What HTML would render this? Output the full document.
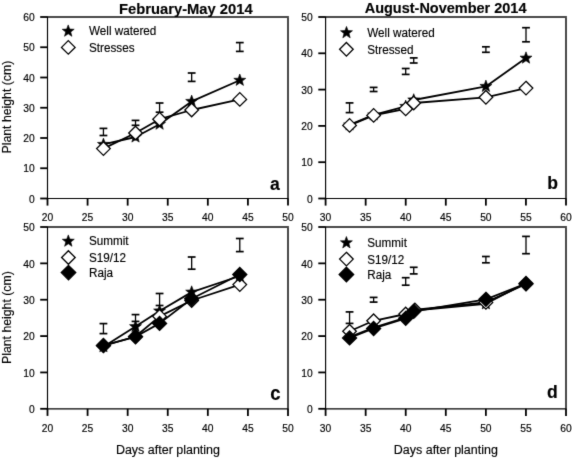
<!DOCTYPE html><html><head><meta charset="utf-8"><style>html,body{margin:0;padding:0;background:#fff;overflow:hidden;width:572px;height:458px;}svg{display:block;} text{font-family:"Liberation Sans", sans-serif;fill:#000;stroke:#000;stroke-width:0.15px;}</style></head><body>
<svg width="572" height="458" viewBox="0 0 572 458">
<defs><filter id="soft" filterUnits="userSpaceOnUse" x="0" y="0" width="572" height="458" color-interpolation-filters="sRGB"><feConvolveMatrix order="3" kernelMatrix="0.0100 0.0800 0.0100 0.0800 0.6400 0.0800 0.0100 0.0800 0.0100" edgeMode="duplicate" preserveAlpha="true"/></filter></defs>
<g filter="url(#soft)">
<rect width="572" height="458" fill="#fff"/>
<line x1="47.50" y1="17.00" x2="288.90" y2="17.00" stroke="#4a4a4a" stroke-width="2"/>
<line x1="288.00" y1="17.90" x2="288.00" y2="198.50" stroke="#4a4a4a" stroke-width="2"/>
<line x1="47.50" y1="16.40" x2="47.50" y2="199.10" stroke="#000" stroke-width="1.15"/>
<line x1="46.90" y1="198.50" x2="288.60" y2="198.50" stroke="#000" stroke-width="1.15"/>
<line x1="40.20" y1="198.50" x2="47.50" y2="198.50" stroke="#000" stroke-width="1.8"/>
<text x="34.70" y="202.70" font-size="10.3" text-anchor="end" font-weight="normal" transform="translate(34.70 202.70) scale(1 1.07) translate(-34.70 -202.70)" >0</text>
<line x1="40.20" y1="168.25" x2="47.50" y2="168.25" stroke="#000" stroke-width="1.8"/>
<text x="34.70" y="172.45" font-size="10.3" text-anchor="end" font-weight="normal" transform="translate(34.70 172.45) scale(1 1.07) translate(-34.70 -172.45)" >10</text>
<line x1="40.20" y1="138.00" x2="47.50" y2="138.00" stroke="#000" stroke-width="1.8"/>
<text x="34.70" y="142.20" font-size="10.3" text-anchor="end" font-weight="normal" transform="translate(34.70 142.20) scale(1 1.07) translate(-34.70 -142.20)" >20</text>
<line x1="40.20" y1="107.75" x2="47.50" y2="107.75" stroke="#000" stroke-width="1.8"/>
<text x="34.70" y="111.95" font-size="10.3" text-anchor="end" font-weight="normal" transform="translate(34.70 111.95) scale(1 1.07) translate(-34.70 -111.95)" >30</text>
<line x1="40.20" y1="77.50" x2="47.50" y2="77.50" stroke="#000" stroke-width="1.8"/>
<text x="34.70" y="81.70" font-size="10.3" text-anchor="end" font-weight="normal" transform="translate(34.70 81.70) scale(1 1.07) translate(-34.70 -81.70)" >40</text>
<line x1="40.20" y1="47.25" x2="47.50" y2="47.25" stroke="#000" stroke-width="1.8"/>
<text x="34.70" y="51.45" font-size="10.3" text-anchor="end" font-weight="normal" transform="translate(34.70 51.45) scale(1 1.07) translate(-34.70 -51.45)" >50</text>
<line x1="40.20" y1="17.00" x2="47.50" y2="17.00" stroke="#000" stroke-width="1.8"/>
<text x="34.70" y="21.20" font-size="10.3" text-anchor="end" font-weight="normal" transform="translate(34.70 21.20) scale(1 1.07) translate(-34.70 -21.20)" >60</text>
<line x1="47.50" y1="198.50" x2="47.50" y2="205.60" stroke="#000" stroke-width="1.8"/>
<text x="47.50" y="221.30" font-size="10.3" text-anchor="middle" font-weight="normal" transform="translate(47.50 221.30) scale(1 1.07) translate(-47.50 -221.30)" >20</text>
<line x1="87.58" y1="198.50" x2="87.58" y2="205.60" stroke="#000" stroke-width="1.8"/>
<text x="87.58" y="221.30" font-size="10.3" text-anchor="middle" font-weight="normal" transform="translate(87.58 221.30) scale(1 1.07) translate(-87.58 -221.30)" >25</text>
<line x1="127.67" y1="198.50" x2="127.67" y2="205.60" stroke="#000" stroke-width="1.8"/>
<text x="127.67" y="221.30" font-size="10.3" text-anchor="middle" font-weight="normal" transform="translate(127.67 221.30) scale(1 1.07) translate(-127.67 -221.30)" >30</text>
<line x1="167.75" y1="198.50" x2="167.75" y2="205.60" stroke="#000" stroke-width="1.8"/>
<text x="167.75" y="221.30" font-size="10.3" text-anchor="middle" font-weight="normal" transform="translate(167.75 221.30) scale(1 1.07) translate(-167.75 -221.30)" >35</text>
<line x1="207.83" y1="198.50" x2="207.83" y2="205.60" stroke="#000" stroke-width="1.8"/>
<text x="207.83" y="221.30" font-size="10.3" text-anchor="middle" font-weight="normal" transform="translate(207.83 221.30) scale(1 1.07) translate(-207.83 -221.30)" >40</text>
<line x1="247.92" y1="198.50" x2="247.92" y2="205.60" stroke="#000" stroke-width="1.8"/>
<text x="247.92" y="221.30" font-size="10.3" text-anchor="middle" font-weight="normal" transform="translate(247.92 221.30) scale(1 1.07) translate(-247.92 -221.30)" >45</text>
<line x1="288.00" y1="198.50" x2="288.00" y2="205.60" stroke="#000" stroke-width="1.8"/>
<text x="288.00" y="221.30" font-size="10.3" text-anchor="middle" font-weight="normal" transform="translate(288.00 221.30) scale(1 1.07) translate(-288.00 -221.30)" >50</text>
<line x1="325.60" y1="17.00" x2="566.90" y2="17.00" stroke="#4a4a4a" stroke-width="2"/>
<line x1="566.00" y1="17.90" x2="566.00" y2="198.50" stroke="#4a4a4a" stroke-width="2"/>
<line x1="325.60" y1="16.40" x2="325.60" y2="199.10" stroke="#000" stroke-width="1.15"/>
<line x1="325.00" y1="198.50" x2="566.60" y2="198.50" stroke="#000" stroke-width="1.15"/>
<line x1="318.30" y1="198.50" x2="325.60" y2="198.50" stroke="#000" stroke-width="1.8"/>
<text x="312.80" y="202.70" font-size="10.3" text-anchor="end" font-weight="normal" transform="translate(312.80 202.70) scale(1 1.07) translate(-312.80 -202.70)" >0</text>
<line x1="318.30" y1="162.20" x2="325.60" y2="162.20" stroke="#000" stroke-width="1.8"/>
<text x="312.80" y="166.40" font-size="10.3" text-anchor="end" font-weight="normal" transform="translate(312.80 166.40) scale(1 1.07) translate(-312.80 -166.40)" >10</text>
<line x1="318.30" y1="125.90" x2="325.60" y2="125.90" stroke="#000" stroke-width="1.8"/>
<text x="312.80" y="130.10" font-size="10.3" text-anchor="end" font-weight="normal" transform="translate(312.80 130.10) scale(1 1.07) translate(-312.80 -130.10)" >20</text>
<line x1="318.30" y1="89.60" x2="325.60" y2="89.60" stroke="#000" stroke-width="1.8"/>
<text x="312.80" y="93.80" font-size="10.3" text-anchor="end" font-weight="normal" transform="translate(312.80 93.80) scale(1 1.07) translate(-312.80 -93.80)" >30</text>
<line x1="318.30" y1="53.30" x2="325.60" y2="53.30" stroke="#000" stroke-width="1.8"/>
<text x="312.80" y="57.50" font-size="10.3" text-anchor="end" font-weight="normal" transform="translate(312.80 57.50) scale(1 1.07) translate(-312.80 -57.50)" >40</text>
<line x1="318.30" y1="17.00" x2="325.60" y2="17.00" stroke="#000" stroke-width="1.8"/>
<text x="312.80" y="21.20" font-size="10.3" text-anchor="end" font-weight="normal" transform="translate(312.80 21.20) scale(1 1.07) translate(-312.80 -21.20)" >50</text>
<line x1="325.60" y1="198.50" x2="325.60" y2="205.60" stroke="#000" stroke-width="1.8"/>
<text x="325.60" y="221.30" font-size="10.3" text-anchor="middle" font-weight="normal" transform="translate(325.60 221.30) scale(1 1.07) translate(-325.60 -221.30)" >30</text>
<line x1="365.67" y1="198.50" x2="365.67" y2="205.60" stroke="#000" stroke-width="1.8"/>
<text x="365.67" y="221.30" font-size="10.3" text-anchor="middle" font-weight="normal" transform="translate(365.67 221.30) scale(1 1.07) translate(-365.67 -221.30)" >35</text>
<line x1="405.73" y1="198.50" x2="405.73" y2="205.60" stroke="#000" stroke-width="1.8"/>
<text x="405.73" y="221.30" font-size="10.3" text-anchor="middle" font-weight="normal" transform="translate(405.73 221.30) scale(1 1.07) translate(-405.73 -221.30)" >40</text>
<line x1="445.80" y1="198.50" x2="445.80" y2="205.60" stroke="#000" stroke-width="1.8"/>
<text x="445.80" y="221.30" font-size="10.3" text-anchor="middle" font-weight="normal" transform="translate(445.80 221.30) scale(1 1.07) translate(-445.80 -221.30)" >45</text>
<line x1="485.87" y1="198.50" x2="485.87" y2="205.60" stroke="#000" stroke-width="1.8"/>
<text x="485.87" y="221.30" font-size="10.3" text-anchor="middle" font-weight="normal" transform="translate(485.87 221.30) scale(1 1.07) translate(-485.87 -221.30)" >50</text>
<line x1="525.93" y1="198.50" x2="525.93" y2="205.60" stroke="#000" stroke-width="1.8"/>
<text x="525.93" y="221.30" font-size="10.3" text-anchor="middle" font-weight="normal" transform="translate(525.93 221.30) scale(1 1.07) translate(-525.93 -221.30)" >55</text>
<line x1="566.00" y1="198.50" x2="566.00" y2="205.60" stroke="#000" stroke-width="1.8"/>
<text x="566.00" y="221.30" font-size="10.3" text-anchor="middle" font-weight="normal" transform="translate(566.00 221.30) scale(1 1.07) translate(-566.00 -221.30)" >60</text>
<line x1="47.50" y1="227.00" x2="288.90" y2="227.00" stroke="#4a4a4a" stroke-width="2"/>
<line x1="288.00" y1="227.90" x2="288.00" y2="408.80" stroke="#4a4a4a" stroke-width="2"/>
<line x1="47.50" y1="226.40" x2="47.50" y2="409.40" stroke="#000" stroke-width="1.15"/>
<line x1="46.90" y1="408.80" x2="288.60" y2="408.80" stroke="#000" stroke-width="1.15"/>
<line x1="40.20" y1="408.80" x2="47.50" y2="408.80" stroke="#000" stroke-width="1.8"/>
<text x="34.70" y="413.00" font-size="10.3" text-anchor="end" font-weight="normal" transform="translate(34.70 413.00) scale(1 1.07) translate(-34.70 -413.00)" >0</text>
<line x1="40.20" y1="372.44" x2="47.50" y2="372.44" stroke="#000" stroke-width="1.8"/>
<text x="34.70" y="376.64" font-size="10.3" text-anchor="end" font-weight="normal" transform="translate(34.70 376.64) scale(1 1.07) translate(-34.70 -376.64)" >10</text>
<line x1="40.20" y1="336.08" x2="47.50" y2="336.08" stroke="#000" stroke-width="1.8"/>
<text x="34.70" y="340.28" font-size="10.3" text-anchor="end" font-weight="normal" transform="translate(34.70 340.28) scale(1 1.07) translate(-34.70 -340.28)" >20</text>
<line x1="40.20" y1="299.72" x2="47.50" y2="299.72" stroke="#000" stroke-width="1.8"/>
<text x="34.70" y="303.92" font-size="10.3" text-anchor="end" font-weight="normal" transform="translate(34.70 303.92) scale(1 1.07) translate(-34.70 -303.92)" >30</text>
<line x1="40.20" y1="263.36" x2="47.50" y2="263.36" stroke="#000" stroke-width="1.8"/>
<text x="34.70" y="267.56" font-size="10.3" text-anchor="end" font-weight="normal" transform="translate(34.70 267.56) scale(1 1.07) translate(-34.70 -267.56)" >40</text>
<line x1="40.20" y1="227.00" x2="47.50" y2="227.00" stroke="#000" stroke-width="1.8"/>
<text x="34.70" y="231.20" font-size="10.3" text-anchor="end" font-weight="normal" transform="translate(34.70 231.20) scale(1 1.07) translate(-34.70 -231.20)" >50</text>
<line x1="47.50" y1="408.80" x2="47.50" y2="415.90" stroke="#000" stroke-width="1.8"/>
<text x="47.50" y="431.60" font-size="10.3" text-anchor="middle" font-weight="normal" transform="translate(47.50 431.60) scale(1 1.07) translate(-47.50 -431.60)" >20</text>
<line x1="87.58" y1="408.80" x2="87.58" y2="415.90" stroke="#000" stroke-width="1.8"/>
<text x="87.58" y="431.60" font-size="10.3" text-anchor="middle" font-weight="normal" transform="translate(87.58 431.60) scale(1 1.07) translate(-87.58 -431.60)" >25</text>
<line x1="127.67" y1="408.80" x2="127.67" y2="415.90" stroke="#000" stroke-width="1.8"/>
<text x="127.67" y="431.60" font-size="10.3" text-anchor="middle" font-weight="normal" transform="translate(127.67 431.60) scale(1 1.07) translate(-127.67 -431.60)" >30</text>
<line x1="167.75" y1="408.80" x2="167.75" y2="415.90" stroke="#000" stroke-width="1.8"/>
<text x="167.75" y="431.60" font-size="10.3" text-anchor="middle" font-weight="normal" transform="translate(167.75 431.60) scale(1 1.07) translate(-167.75 -431.60)" >35</text>
<line x1="207.83" y1="408.80" x2="207.83" y2="415.90" stroke="#000" stroke-width="1.8"/>
<text x="207.83" y="431.60" font-size="10.3" text-anchor="middle" font-weight="normal" transform="translate(207.83 431.60) scale(1 1.07) translate(-207.83 -431.60)" >40</text>
<line x1="247.92" y1="408.80" x2="247.92" y2="415.90" stroke="#000" stroke-width="1.8"/>
<text x="247.92" y="431.60" font-size="10.3" text-anchor="middle" font-weight="normal" transform="translate(247.92 431.60) scale(1 1.07) translate(-247.92 -431.60)" >45</text>
<line x1="288.00" y1="408.80" x2="288.00" y2="415.90" stroke="#000" stroke-width="1.8"/>
<text x="288.00" y="431.60" font-size="10.3" text-anchor="middle" font-weight="normal" transform="translate(288.00 431.60) scale(1 1.07) translate(-288.00 -431.60)" >50</text>
<line x1="325.60" y1="227.00" x2="566.90" y2="227.00" stroke="#4a4a4a" stroke-width="2"/>
<line x1="566.00" y1="227.90" x2="566.00" y2="408.80" stroke="#4a4a4a" stroke-width="2"/>
<line x1="325.60" y1="226.40" x2="325.60" y2="409.40" stroke="#000" stroke-width="1.15"/>
<line x1="325.00" y1="408.80" x2="566.60" y2="408.80" stroke="#000" stroke-width="1.15"/>
<line x1="318.30" y1="408.80" x2="325.60" y2="408.80" stroke="#000" stroke-width="1.8"/>
<text x="312.80" y="413.00" font-size="10.3" text-anchor="end" font-weight="normal" transform="translate(312.80 413.00) scale(1 1.07) translate(-312.80 -413.00)" >0</text>
<line x1="318.30" y1="372.44" x2="325.60" y2="372.44" stroke="#000" stroke-width="1.8"/>
<text x="312.80" y="376.64" font-size="10.3" text-anchor="end" font-weight="normal" transform="translate(312.80 376.64) scale(1 1.07) translate(-312.80 -376.64)" >10</text>
<line x1="318.30" y1="336.08" x2="325.60" y2="336.08" stroke="#000" stroke-width="1.8"/>
<text x="312.80" y="340.28" font-size="10.3" text-anchor="end" font-weight="normal" transform="translate(312.80 340.28) scale(1 1.07) translate(-312.80 -340.28)" >20</text>
<line x1="318.30" y1="299.72" x2="325.60" y2="299.72" stroke="#000" stroke-width="1.8"/>
<text x="312.80" y="303.92" font-size="10.3" text-anchor="end" font-weight="normal" transform="translate(312.80 303.92) scale(1 1.07) translate(-312.80 -303.92)" >30</text>
<line x1="318.30" y1="263.36" x2="325.60" y2="263.36" stroke="#000" stroke-width="1.8"/>
<text x="312.80" y="267.56" font-size="10.3" text-anchor="end" font-weight="normal" transform="translate(312.80 267.56) scale(1 1.07) translate(-312.80 -267.56)" >40</text>
<line x1="318.30" y1="227.00" x2="325.60" y2="227.00" stroke="#000" stroke-width="1.8"/>
<text x="312.80" y="231.20" font-size="10.3" text-anchor="end" font-weight="normal" transform="translate(312.80 231.20) scale(1 1.07) translate(-312.80 -231.20)" >50</text>
<line x1="325.60" y1="408.80" x2="325.60" y2="415.90" stroke="#000" stroke-width="1.8"/>
<text x="325.60" y="431.60" font-size="10.3" text-anchor="middle" font-weight="normal" transform="translate(325.60 431.60) scale(1 1.07) translate(-325.60 -431.60)" >30</text>
<line x1="365.67" y1="408.80" x2="365.67" y2="415.90" stroke="#000" stroke-width="1.8"/>
<text x="365.67" y="431.60" font-size="10.3" text-anchor="middle" font-weight="normal" transform="translate(365.67 431.60) scale(1 1.07) translate(-365.67 -431.60)" >35</text>
<line x1="405.73" y1="408.80" x2="405.73" y2="415.90" stroke="#000" stroke-width="1.8"/>
<text x="405.73" y="431.60" font-size="10.3" text-anchor="middle" font-weight="normal" transform="translate(405.73 431.60) scale(1 1.07) translate(-405.73 -431.60)" >40</text>
<line x1="445.80" y1="408.80" x2="445.80" y2="415.90" stroke="#000" stroke-width="1.8"/>
<text x="445.80" y="431.60" font-size="10.3" text-anchor="middle" font-weight="normal" transform="translate(445.80 431.60) scale(1 1.07) translate(-445.80 -431.60)" >45</text>
<line x1="485.87" y1="408.80" x2="485.87" y2="415.90" stroke="#000" stroke-width="1.8"/>
<text x="485.87" y="431.60" font-size="10.3" text-anchor="middle" font-weight="normal" transform="translate(485.87 431.60) scale(1 1.07) translate(-485.87 -431.60)" >50</text>
<line x1="525.93" y1="408.80" x2="525.93" y2="415.90" stroke="#000" stroke-width="1.8"/>
<text x="525.93" y="431.60" font-size="10.3" text-anchor="middle" font-weight="normal" transform="translate(525.93 431.60) scale(1 1.07) translate(-525.93 -431.60)" >55</text>
<line x1="566.00" y1="408.80" x2="566.00" y2="415.90" stroke="#000" stroke-width="1.8"/>
<text x="566.00" y="431.60" font-size="10.3" text-anchor="middle" font-weight="normal" transform="translate(566.00 431.60) scale(1 1.07) translate(-566.00 -431.60)" >60</text>
<text x="185.85" y="13.50" font-size="14.75" text-anchor="middle" font-weight="bold" transform="translate(185.85 13.50) scale(1 1.03) translate(-185.85 -13.50)" >February-May 2014</text>
<text x="445.60" y="13.50" font-size="14.5" text-anchor="middle" font-weight="bold" transform="translate(445.60 13.50) scale(1 1.03) translate(-445.60 -13.50)" >August-November 2014</text>
<text x="10.90" y="107.10" font-size="12.3" text-anchor="middle" font-weight="normal" transform="rotate(-90 10.90 107.10) translate(10.90 107.10) scale(1 1.07) translate(-10.90 -107.10)" >Plant height (cm)</text>
<text x="10.90" y="317.60" font-size="12.3" text-anchor="middle" font-weight="normal" transform="rotate(-90 10.90 317.60) translate(10.90 317.60) scale(1 1.07) translate(-10.90 -317.60)" >Plant height (cm)</text>
<text x="167.95" y="453.60" font-size="12.5" text-anchor="middle" font-weight="normal" transform="translate(167.95 453.60) scale(1 1.05) translate(-167.95 -453.60)" >Days after planting</text>
<text x="445.85" y="453.60" font-size="12.5" text-anchor="middle" font-weight="normal" transform="translate(445.85 453.60) scale(1 1.05) translate(-445.85 -453.60)" >Days after planting</text>
<text x="274.90" y="190.40" font-size="17.6" text-anchor="middle" font-weight="bold" transform="translate(274.90 190.40) scale(1 1.07) translate(-274.90 -190.40)" >a</text>
<text x="552.70" y="189.50" font-size="17.6" text-anchor="middle" font-weight="bold" transform="translate(552.70 189.50) scale(1 1.07) translate(-552.70 -189.50)" >b</text>
<text x="275.35" y="399.60" font-size="18.5" text-anchor="middle" font-weight="bold" transform="translate(275.35 399.60) scale(1 1.07) translate(-275.35 -399.60)" >c</text>
<text x="552.40" y="398.50" font-size="17.6" text-anchor="middle" font-weight="bold" transform="translate(552.40 398.50) scale(1 1.07) translate(-552.40 -398.50)" >d</text>
<line x1="103.44" y1="128.40" x2="103.44" y2="135.50" stroke="#000" stroke-width="1.3"/><line x1="99.54" y1="128.40" x2="107.34" y2="128.40" stroke="#000" stroke-width="1.7"/><line x1="99.54" y1="135.50" x2="107.34" y2="135.50" stroke="#000" stroke-width="1.7"/>
<line x1="135.52" y1="120.40" x2="135.52" y2="125.30" stroke="#000" stroke-width="1.3"/><line x1="131.62" y1="120.40" x2="139.42" y2="120.40" stroke="#000" stroke-width="1.7"/><line x1="131.62" y1="125.30" x2="139.42" y2="125.30" stroke="#000" stroke-width="1.7"/>
<line x1="159.58" y1="103.00" x2="159.58" y2="112.20" stroke="#000" stroke-width="1.3"/><line x1="155.68" y1="103.00" x2="163.48" y2="103.00" stroke="#000" stroke-width="1.7"/><line x1="155.68" y1="112.20" x2="163.48" y2="112.20" stroke="#000" stroke-width="1.7"/>
<line x1="191.66" y1="73.00" x2="191.66" y2="81.40" stroke="#000" stroke-width="1.3"/><line x1="187.76" y1="73.00" x2="195.56" y2="73.00" stroke="#000" stroke-width="1.7"/><line x1="187.76" y1="81.40" x2="195.56" y2="81.40" stroke="#000" stroke-width="1.7"/>
<line x1="239.78" y1="42.60" x2="239.78" y2="51.40" stroke="#000" stroke-width="1.3"/><line x1="235.88" y1="42.60" x2="243.68" y2="42.60" stroke="#000" stroke-width="1.7"/><line x1="235.88" y1="51.40" x2="243.68" y2="51.40" stroke="#000" stroke-width="1.7"/>
<polyline points="103.44,144.40 135.52,137.00 159.58,124.20 191.66,101.40 239.78,80.30" fill="none" stroke="#000" stroke-width="1.8" stroke-linejoin="round"/>
<path d="M103.44,138.10 L105.00,142.26 L109.43,142.45 L105.96,145.22 L107.14,149.50 L103.44,147.05 L99.74,149.50 L100.92,145.22 L97.45,142.45 L101.88,142.26 Z" fill="#000" stroke="#000" stroke-width="0.6" stroke-linejoin="miter"/>
<path d="M135.52,130.70 L137.08,134.86 L141.51,135.05 L138.04,137.82 L139.22,142.10 L135.52,139.65 L131.82,142.10 L133.00,137.82 L129.53,135.05 L133.96,134.86 Z" fill="#000" stroke="#000" stroke-width="0.6" stroke-linejoin="miter"/>
<path d="M159.58,117.90 L161.14,122.06 L165.57,122.25 L162.10,125.02 L163.28,129.30 L159.58,126.85 L155.88,129.30 L157.06,125.02 L153.59,122.25 L158.02,122.06 Z" fill="#000" stroke="#000" stroke-width="0.6" stroke-linejoin="miter"/>
<path d="M191.66,95.10 L193.22,99.26 L197.65,99.45 L194.18,102.22 L195.36,106.50 L191.66,104.05 L187.96,106.50 L189.14,102.22 L185.67,99.45 L190.10,99.26 Z" fill="#000" stroke="#000" stroke-width="0.6" stroke-linejoin="miter"/>
<path d="M239.78,74.00 L241.34,78.16 L245.77,78.35 L242.30,81.12 L243.48,85.40 L239.78,82.95 L236.08,85.40 L237.26,81.12 L233.79,78.35 L238.22,78.16 Z" fill="#000" stroke="#000" stroke-width="0.6" stroke-linejoin="miter"/>
<polyline points="103.44,148.60 135.52,133.00 159.58,119.20 191.66,110.00 239.78,99.40" fill="none" stroke="#000" stroke-width="1.8" stroke-linejoin="round"/>
<path d="M103.44,141.80 L110.24,148.60 L103.44,155.40 L96.64,148.60 Z" fill="#fff" stroke="#000" stroke-width="1.3" stroke-linejoin="miter"/>
<path d="M135.52,126.20 L142.32,133.00 L135.52,139.80 L128.72,133.00 Z" fill="#fff" stroke="#000" stroke-width="1.3" stroke-linejoin="miter"/>
<path d="M159.58,112.40 L166.38,119.20 L159.58,126.00 L152.78,119.20 Z" fill="#fff" stroke="#000" stroke-width="1.3" stroke-linejoin="miter"/>
<path d="M191.66,103.20 L198.46,110.00 L191.66,116.80 L184.86,110.00 Z" fill="#fff" stroke="#000" stroke-width="1.3" stroke-linejoin="miter"/>
<path d="M239.78,92.60 L246.58,99.40 L239.78,106.20 L232.98,99.40 Z" fill="#fff" stroke="#000" stroke-width="1.3" stroke-linejoin="miter"/>
<path d="M68.20,24.90 L69.76,29.06 L74.19,29.25 L70.72,32.02 L71.90,36.30 L68.20,33.85 L64.50,36.30 L65.68,32.02 L62.21,29.25 L66.64,29.06 Z" fill="#000" stroke="#000" stroke-width="0.6" stroke-linejoin="miter"/>
<path d="M68.30,40.60 L75.10,47.40 L68.30,54.20 L61.50,47.40 Z" fill="#fff" stroke="#000" stroke-width="1.3" stroke-linejoin="miter"/>
<text x="89.00" y="35.20" font-size="11.7" text-anchor="start" font-weight="normal" transform="translate(89.00 35.20) scale(1 1.07) translate(-89.00 -35.20)" >Well watered</text>
<text x="89.00" y="51.90" font-size="11.7" text-anchor="start" font-weight="normal" transform="translate(89.00 51.90) scale(1 1.07) translate(-89.00 -51.90)" >Stresses</text>
<line x1="349.56" y1="102.90" x2="349.56" y2="112.60" stroke="#000" stroke-width="1.3"/><line x1="345.66" y1="102.90" x2="353.46" y2="102.90" stroke="#000" stroke-width="1.7"/><line x1="345.66" y1="112.60" x2="353.46" y2="112.60" stroke="#000" stroke-width="1.7"/>
<line x1="373.62" y1="87.40" x2="373.62" y2="91.50" stroke="#000" stroke-width="1.3"/><line x1="369.72" y1="87.40" x2="377.52" y2="87.40" stroke="#000" stroke-width="1.7"/><line x1="369.72" y1="91.50" x2="377.52" y2="91.50" stroke="#000" stroke-width="1.7"/>
<line x1="405.70" y1="68.50" x2="405.70" y2="74.40" stroke="#000" stroke-width="1.3"/><line x1="401.80" y1="68.50" x2="409.60" y2="68.50" stroke="#000" stroke-width="1.7"/><line x1="401.80" y1="74.40" x2="409.60" y2="74.40" stroke="#000" stroke-width="1.7"/>
<line x1="413.72" y1="57.90" x2="413.72" y2="63.00" stroke="#000" stroke-width="1.3"/><line x1="409.82" y1="57.90" x2="417.62" y2="57.90" stroke="#000" stroke-width="1.7"/><line x1="409.82" y1="63.00" x2="417.62" y2="63.00" stroke="#000" stroke-width="1.7"/>
<line x1="485.90" y1="46.80" x2="485.90" y2="52.30" stroke="#000" stroke-width="1.3"/><line x1="482.00" y1="46.80" x2="489.80" y2="46.80" stroke="#000" stroke-width="1.7"/><line x1="482.00" y1="52.30" x2="489.80" y2="52.30" stroke="#000" stroke-width="1.7"/>
<line x1="526.00" y1="27.70" x2="526.00" y2="41.80" stroke="#000" stroke-width="1.3"/><line x1="522.10" y1="27.70" x2="529.90" y2="27.70" stroke="#000" stroke-width="1.7"/><line x1="522.10" y1="41.80" x2="529.90" y2="41.80" stroke="#000" stroke-width="1.7"/>
<polyline points="349.56,124.95 373.62,114.95 405.70,106.40 413.72,100.00 485.90,86.40 526.00,58.10" fill="none" stroke="#000" stroke-width="1.8" stroke-linejoin="round"/>
<path d="M349.56,118.65 L351.12,122.81 L355.55,123.00 L352.08,125.77 L353.26,130.05 L349.56,127.60 L345.86,130.05 L347.04,125.77 L343.57,123.00 L348.00,122.81 Z" fill="#000" stroke="#000" stroke-width="0.6" stroke-linejoin="miter"/>
<path d="M373.62,108.65 L375.18,112.81 L379.61,113.00 L376.14,115.77 L377.32,120.05 L373.62,117.60 L369.92,120.05 L371.10,115.77 L367.63,113.00 L372.06,112.81 Z" fill="#000" stroke="#000" stroke-width="0.6" stroke-linejoin="miter"/>
<path d="M405.70,100.10 L407.26,104.26 L411.69,104.45 L408.22,107.22 L409.40,111.50 L405.70,109.05 L402.00,111.50 L403.18,107.22 L399.71,104.45 L404.14,104.26 Z" fill="#000" stroke="#000" stroke-width="0.6" stroke-linejoin="miter"/>
<path d="M413.72,93.70 L415.28,97.86 L419.71,98.05 L416.24,100.82 L417.42,105.10 L413.72,102.65 L410.02,105.10 L411.20,100.82 L407.73,98.05 L412.16,97.86 Z" fill="#000" stroke="#000" stroke-width="0.6" stroke-linejoin="miter"/>
<path d="M485.90,80.10 L487.46,84.26 L491.89,84.45 L488.42,87.22 L489.60,91.50 L485.90,89.05 L482.20,91.50 L483.38,87.22 L479.91,84.45 L484.34,84.26 Z" fill="#000" stroke="#000" stroke-width="0.6" stroke-linejoin="miter"/>
<path d="M526.00,51.80 L527.56,55.96 L531.99,56.15 L528.52,58.92 L529.70,63.20 L526.00,60.75 L522.30,63.20 L523.48,58.92 L520.01,56.15 L524.44,55.96 Z" fill="#000" stroke="#000" stroke-width="0.6" stroke-linejoin="miter"/>
<polyline points="349.56,125.40 373.62,115.40 405.70,108.90 413.72,103.00 485.90,97.30 526.00,88.10" fill="none" stroke="#000" stroke-width="1.8" stroke-linejoin="round"/>
<path d="M349.56,118.60 L356.36,125.40 L349.56,132.20 L342.76,125.40 Z" fill="#fff" stroke="#000" stroke-width="1.3" stroke-linejoin="miter"/>
<path d="M373.62,108.60 L380.42,115.40 L373.62,122.20 L366.82,115.40 Z" fill="#fff" stroke="#000" stroke-width="1.3" stroke-linejoin="miter"/>
<path d="M405.70,102.10 L412.50,108.90 L405.70,115.70 L398.90,108.90 Z" fill="#fff" stroke="#000" stroke-width="1.3" stroke-linejoin="miter"/>
<path d="M413.72,96.20 L420.52,103.00 L413.72,109.80 L406.92,103.00 Z" fill="#fff" stroke="#000" stroke-width="1.3" stroke-linejoin="miter"/>
<path d="M485.90,90.50 L492.70,97.30 L485.90,104.10 L479.10,97.30 Z" fill="#fff" stroke="#000" stroke-width="1.3" stroke-linejoin="miter"/>
<path d="M526.00,81.30 L532.80,88.10 L526.00,94.90 L519.20,88.10 Z" fill="#fff" stroke="#000" stroke-width="1.3" stroke-linejoin="miter"/>
<path d="M346.50,26.40 L348.06,30.56 L352.49,30.75 L349.02,33.52 L350.20,37.80 L346.50,35.35 L342.80,37.80 L343.98,33.52 L340.51,30.75 L344.94,30.56 Z" fill="#000" stroke="#000" stroke-width="0.6" stroke-linejoin="miter"/>
<path d="M346.40,42.50 L353.20,49.30 L346.40,56.10 L339.60,49.30 Z" fill="#fff" stroke="#000" stroke-width="1.3" stroke-linejoin="miter"/>
<text x="367.30" y="36.60" font-size="11.7" text-anchor="start" font-weight="normal" transform="translate(367.30 36.60) scale(1 1.07) translate(-367.30 -36.60)" >Well watered</text>
<text x="367.30" y="53.60" font-size="11.7" text-anchor="start" font-weight="normal" transform="translate(367.30 53.60) scale(1 1.07) translate(-367.30 -53.60)" >Stressed</text>
<line x1="103.44" y1="323.60" x2="103.44" y2="333.60" stroke="#000" stroke-width="1.3"/><line x1="99.54" y1="323.60" x2="107.34" y2="323.60" stroke="#000" stroke-width="1.7"/><line x1="99.54" y1="333.60" x2="107.34" y2="333.60" stroke="#000" stroke-width="1.7"/>
<line x1="135.52" y1="314.60" x2="135.52" y2="321.40" stroke="#000" stroke-width="1.3"/><line x1="131.62" y1="314.60" x2="139.42" y2="314.60" stroke="#000" stroke-width="1.7"/><line x1="131.62" y1="321.40" x2="139.42" y2="321.40" stroke="#000" stroke-width="1.7"/>
<line x1="159.58" y1="293.50" x2="159.58" y2="305.50" stroke="#000" stroke-width="1.3"/><line x1="155.68" y1="293.50" x2="163.48" y2="293.50" stroke="#000" stroke-width="1.7"/><line x1="155.68" y1="305.50" x2="163.48" y2="305.50" stroke="#000" stroke-width="1.7"/>
<line x1="191.66" y1="257.00" x2="191.66" y2="269.20" stroke="#000" stroke-width="1.3"/><line x1="187.76" y1="257.00" x2="195.56" y2="257.00" stroke="#000" stroke-width="1.7"/><line x1="187.76" y1="269.20" x2="195.56" y2="269.20" stroke="#000" stroke-width="1.7"/>
<line x1="239.78" y1="238.50" x2="239.78" y2="251.60" stroke="#000" stroke-width="1.3"/><line x1="235.88" y1="238.50" x2="243.68" y2="238.50" stroke="#000" stroke-width="1.7"/><line x1="235.88" y1="251.60" x2="243.68" y2="251.60" stroke="#000" stroke-width="1.7"/>
<polyline points="103.44,346.70 135.52,326.60 159.58,311.00 191.66,292.10 239.78,276.00" fill="none" stroke="#000" stroke-width="1.8" stroke-linejoin="round"/>
<path d="M103.44,340.40 L105.00,344.56 L109.43,344.75 L105.96,347.52 L107.14,351.80 L103.44,349.35 L99.74,351.80 L100.92,347.52 L97.45,344.75 L101.88,344.56 Z" fill="#000" stroke="#000" stroke-width="0.6" stroke-linejoin="miter"/>
<path d="M135.52,320.30 L137.08,324.46 L141.51,324.65 L138.04,327.42 L139.22,331.70 L135.52,329.25 L131.82,331.70 L133.00,327.42 L129.53,324.65 L133.96,324.46 Z" fill="#000" stroke="#000" stroke-width="0.6" stroke-linejoin="miter"/>
<path d="M159.58,304.70 L161.14,308.86 L165.57,309.05 L162.10,311.82 L163.28,316.10 L159.58,313.65 L155.88,316.10 L157.06,311.82 L153.59,309.05 L158.02,308.86 Z" fill="#000" stroke="#000" stroke-width="0.6" stroke-linejoin="miter"/>
<path d="M191.66,285.80 L193.22,289.96 L197.65,290.15 L194.18,292.92 L195.36,297.20 L191.66,294.75 L187.96,297.20 L189.14,292.92 L185.67,290.15 L190.10,289.96 Z" fill="#000" stroke="#000" stroke-width="0.6" stroke-linejoin="miter"/>
<path d="M239.78,269.70 L241.34,273.86 L245.77,274.05 L242.30,276.82 L243.48,281.10 L239.78,278.65 L236.08,281.10 L237.26,276.82 L233.79,274.05 L238.22,273.86 Z" fill="#000" stroke="#000" stroke-width="0.6" stroke-linejoin="miter"/>
<polyline points="103.44,345.80 135.52,336.50 159.58,316.40 191.66,300.50 239.78,284.60" fill="none" stroke="#000" stroke-width="1.8" stroke-linejoin="round"/>
<path d="M103.44,339.00 L110.24,345.80 L103.44,352.60 L96.64,345.80 Z" fill="#fff" stroke="#000" stroke-width="1.3" stroke-linejoin="miter"/>
<path d="M135.52,329.70 L142.32,336.50 L135.52,343.30 L128.72,336.50 Z" fill="#fff" stroke="#000" stroke-width="1.3" stroke-linejoin="miter"/>
<path d="M159.58,309.60 L166.38,316.40 L159.58,323.20 L152.78,316.40 Z" fill="#fff" stroke="#000" stroke-width="1.3" stroke-linejoin="miter"/>
<path d="M191.66,293.70 L198.46,300.50 L191.66,307.30 L184.86,300.50 Z" fill="#fff" stroke="#000" stroke-width="1.3" stroke-linejoin="miter"/>
<path d="M239.78,277.80 L246.58,284.60 L239.78,291.40 L232.98,284.60 Z" fill="#fff" stroke="#000" stroke-width="1.3" stroke-linejoin="miter"/>
<polyline points="103.44,345.40 135.52,336.80 159.58,323.40 191.66,298.80 239.78,274.50" fill="none" stroke="#000" stroke-width="1.8" stroke-linejoin="round"/>
<path d="M103.44,338.40 L110.44,345.40 L103.44,352.40 L96.44,345.40 Z" fill="#000" stroke="#000" stroke-width="1.3" stroke-linejoin="miter"/>
<path d="M135.52,329.80 L142.52,336.80 L135.52,343.80 L128.52,336.80 Z" fill="#000" stroke="#000" stroke-width="1.3" stroke-linejoin="miter"/>
<path d="M159.58,316.40 L166.58,323.40 L159.58,330.40 L152.58,323.40 Z" fill="#000" stroke="#000" stroke-width="1.3" stroke-linejoin="miter"/>
<path d="M191.66,291.80 L198.66,298.80 L191.66,305.80 L184.66,298.80 Z" fill="#000" stroke="#000" stroke-width="1.3" stroke-linejoin="miter"/>
<path d="M239.78,267.50 L246.78,274.50 L239.78,281.50 L232.78,274.50 Z" fill="#000" stroke="#000" stroke-width="1.3" stroke-linejoin="miter"/>
<path d="M68.30,234.90 L69.86,239.06 L74.29,239.25 L70.82,242.02 L72.00,246.30 L68.30,243.85 L64.60,246.30 L65.78,242.02 L62.31,239.25 L66.74,239.06 Z" fill="#000" stroke="#000" stroke-width="0.6" stroke-linejoin="miter"/>
<path d="M68.40,250.70 L75.20,257.50 L68.40,264.30 L61.60,257.50 Z" fill="#fff" stroke="#000" stroke-width="1.3" stroke-linejoin="miter"/>
<path d="M68.50,265.35 L75.75,272.60 L68.50,279.85 L61.25,272.60 Z" fill="#000" stroke="#000" stroke-width="1.3" stroke-linejoin="miter"/>
<text x="89.00" y="245.40" font-size="11.7" text-anchor="start" font-weight="normal" transform="translate(89.00 245.40) scale(1 1.07) translate(-89.00 -245.40)" >Summit</text>
<text x="89.00" y="262.50" font-size="11.7" text-anchor="start" font-weight="normal" transform="translate(89.00 262.50) scale(1 1.07) translate(-89.00 -262.50)" >S19/12</text>
<text x="89.00" y="277.40" font-size="11.7" text-anchor="start" font-weight="normal" transform="translate(89.00 277.40) scale(1 1.07) translate(-89.00 -277.40)" >Raja</text>
<line x1="349.56" y1="311.90" x2="349.56" y2="323.40" stroke="#000" stroke-width="1.3"/><line x1="345.66" y1="311.90" x2="353.46" y2="311.90" stroke="#000" stroke-width="1.7"/><line x1="345.66" y1="323.40" x2="353.46" y2="323.40" stroke="#000" stroke-width="1.7"/>
<line x1="373.62" y1="297.40" x2="373.62" y2="302.10" stroke="#000" stroke-width="1.3"/><line x1="369.72" y1="297.40" x2="377.52" y2="297.40" stroke="#000" stroke-width="1.7"/><line x1="369.72" y1="302.10" x2="377.52" y2="302.10" stroke="#000" stroke-width="1.7"/>
<line x1="405.70" y1="277.70" x2="405.70" y2="285.20" stroke="#000" stroke-width="1.3"/><line x1="401.80" y1="277.70" x2="409.60" y2="277.70" stroke="#000" stroke-width="1.7"/><line x1="401.80" y1="285.20" x2="409.60" y2="285.20" stroke="#000" stroke-width="1.7"/>
<line x1="413.72" y1="267.30" x2="413.72" y2="273.90" stroke="#000" stroke-width="1.3"/><line x1="409.82" y1="267.30" x2="417.62" y2="267.30" stroke="#000" stroke-width="1.7"/><line x1="409.82" y1="273.90" x2="417.62" y2="273.90" stroke="#000" stroke-width="1.7"/>
<line x1="485.90" y1="256.50" x2="485.90" y2="262.80" stroke="#000" stroke-width="1.3"/><line x1="482.00" y1="256.50" x2="489.80" y2="256.50" stroke="#000" stroke-width="1.7"/><line x1="482.00" y1="262.80" x2="489.80" y2="262.80" stroke="#000" stroke-width="1.7"/>
<line x1="526.00" y1="236.40" x2="526.00" y2="253.70" stroke="#000" stroke-width="1.3"/><line x1="522.10" y1="236.40" x2="529.90" y2="236.40" stroke="#000" stroke-width="1.7"/><line x1="522.10" y1="253.70" x2="529.90" y2="253.70" stroke="#000" stroke-width="1.7"/>
<polyline points="349.56,337.10 373.62,327.70 405.70,317.50 413.72,310.50 485.90,303.80 526.00,283.00" fill="none" stroke="#000" stroke-width="1.8" stroke-linejoin="round"/>
<path d="M485.90,297.50 L487.46,301.66 L491.89,301.85 L488.42,304.62 L489.60,308.90 L485.90,306.45 L482.20,308.90 L483.38,304.62 L479.91,301.85 L484.34,301.66 Z" fill="#000" stroke="#000" stroke-width="0.6" stroke-linejoin="miter"/>
<polyline points="349.56,331.30 373.62,320.80 405.70,314.00 413.72,310.00 485.90,302.40 526.00,284.00" fill="none" stroke="#000" stroke-width="1.8" stroke-linejoin="round"/>
<path d="M349.56,324.50 L356.36,331.30 L349.56,338.10 L342.76,331.30 Z" fill="#fff" stroke="#000" stroke-width="1.3" stroke-linejoin="miter"/>
<path d="M373.62,314.00 L380.42,320.80 L373.62,327.60 L366.82,320.80 Z" fill="#fff" stroke="#000" stroke-width="1.3" stroke-linejoin="miter"/>
<path d="M405.70,307.20 L412.50,314.00 L405.70,320.80 L398.90,314.00 Z" fill="#fff" stroke="#000" stroke-width="1.3" stroke-linejoin="miter"/>
<path d="M414.92,303.20 L421.72,310.00 L414.92,316.80 L408.12,310.00 Z" fill="#fff" stroke="#000" stroke-width="1.3" stroke-linejoin="miter"/>
<path d="M485.90,295.60 L492.70,302.40 L485.90,309.20 L479.10,302.40 Z" fill="#fff" stroke="#000" stroke-width="1.3" stroke-linejoin="miter"/>
<path d="M526.00,277.20 L532.80,284.00 L526.00,290.80 L519.20,284.00 Z" fill="#fff" stroke="#000" stroke-width="1.3" stroke-linejoin="miter"/>
<polyline points="349.56,337.90 373.62,328.50 405.70,318.30 413.72,311.30 485.90,299.30 526.00,283.50" fill="none" stroke="#000" stroke-width="1.8" stroke-linejoin="round"/>
<path d="M349.56,330.90 L356.56,337.90 L349.56,344.90 L342.56,337.90 Z" fill="#000" stroke="#000" stroke-width="1.3" stroke-linejoin="miter"/>
<path d="M373.62,321.50 L380.62,328.50 L373.62,335.50 L366.62,328.50 Z" fill="#000" stroke="#000" stroke-width="1.3" stroke-linejoin="miter"/>
<path d="M405.70,311.30 L412.70,318.30 L405.70,325.30 L398.70,318.30 Z" fill="#000" stroke="#000" stroke-width="1.3" stroke-linejoin="miter"/>
<path d="M413.72,304.30 L420.72,311.30 L413.72,318.30 L406.72,311.30 Z" fill="#000" stroke="#000" stroke-width="1.3" stroke-linejoin="miter"/>
<path d="M485.90,292.30 L492.90,299.30 L485.90,306.30 L478.90,299.30 Z" fill="#000" stroke="#000" stroke-width="1.3" stroke-linejoin="miter"/>
<path d="M526.00,276.50 L533.00,283.50 L526.00,290.50 L519.00,283.50 Z" fill="#000" stroke="#000" stroke-width="1.3" stroke-linejoin="miter"/>
<path d="M346.40,236.50 L347.96,240.66 L352.39,240.85 L348.92,243.62 L350.10,247.90 L346.40,245.45 L342.70,247.90 L343.88,243.62 L340.41,240.85 L344.84,240.66 Z" fill="#000" stroke="#000" stroke-width="0.6" stroke-linejoin="miter"/>
<path d="M346.40,252.30 L353.20,259.10 L346.40,265.90 L339.60,259.10 Z" fill="#fff" stroke="#000" stroke-width="1.3" stroke-linejoin="miter"/>
<path d="M346.40,267.25 L353.65,274.50 L346.40,281.75 L339.15,274.50 Z" fill="#000" stroke="#000" stroke-width="1.3" stroke-linejoin="miter"/>
<text x="367.30" y="247.50" font-size="11.7" text-anchor="start" font-weight="normal" transform="translate(367.30 247.50) scale(1 1.07) translate(-367.30 -247.50)" >Summit</text>
<text x="367.30" y="264.50" font-size="11.7" text-anchor="start" font-weight="normal" transform="translate(367.30 264.50) scale(1 1.07) translate(-367.30 -264.50)" >S19/12</text>
<text x="367.30" y="279.00" font-size="11.7" text-anchor="start" font-weight="normal" transform="translate(367.30 279.00) scale(1 1.07) translate(-367.30 -279.00)" >Raja</text>
</g></svg></body></html>
